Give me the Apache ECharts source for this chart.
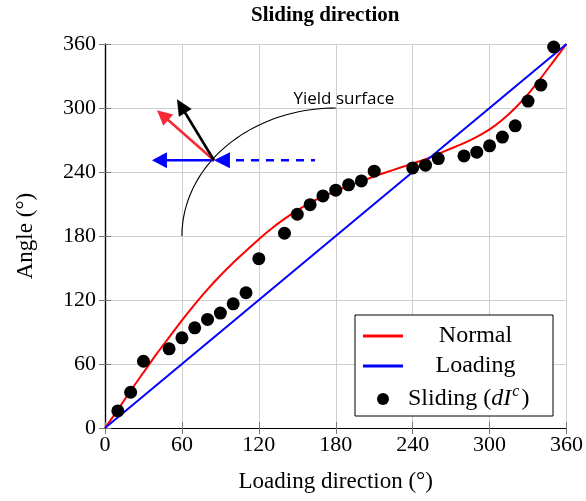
<!DOCTYPE html>
<html>
<head>
<meta charset="utf-8">
<script src="https://cdn.jsdelivr.net/npm/echarts@6/dist/echarts.min.js"></script>
<style>html,body{margin:0;padding:0;background:#fff}#main{width:586px;height:501px}</style>
</head>
<body>
<div id="main"></div>
<script>
// ---- data ----
const normalX = [0,10,20,30,40,50,60,70,80,90,100,110,120,130,140,150,160,170,180,190,200,210,220,230,240,250,260,270,280,290,300,310,320,330,340,350,360];
const normalY = [0,17,35,52,69,85,101,116,130,143,155,166,177,187,196,204,211,217,222,227,231,236,240,244,248,252,257,262,267,273,280,289,300,313,328,344,360];
const loadingX = [0,360];
const loadingY = [0,360];
const slidingX = [10,20,30,50,60,70,80,90,100,110,120,140,150,160,170,180,190,200,210,240,250,260,280,290,300,310,320,330,340,350];
const slidingY = [16,33.5,62.6,74.2,84.5,93.9,101.8,107.7,116.4,126.8,158.7,182.6,200.4,209.4,217.6,223,228,231.6,240.8,243.8,246.4,252.6,255.1,258.6,264.5,272.7,283.3,306.5,321.5,357.2];
const axisTicks = [0,60,120,180,240,300,360];
const titleText = 'Sliding direction';
const xName = 'Loading direction (°)';
const yName = 'Angle (°)';
const yieldLabel = 'Yield surface';
// yield surface: circle in data coords
const yieldCenter = [180,180];
const yieldRadius = 120;
const arrowOrigin = [85,251];

const serif = '"Liberation Serif", "Times New Roman", serif';
const zip = (xs, ys) => xs.map((x,i)=>[x, ys[i]]);

const chart = echarts.init(document.getElementById('main'), null, {renderer:'canvas'});

const axisCommon = {
  min: 0, max: 360, interval: 60,
  axisLine: {show:true, lineStyle:{color:'#000', width:1.2}},
  axisTick: {show:true, inside:true, length:6, lineStyle:{color:'#777'}},
  splitLine: {show:true, lineStyle:{color:'#cfcfcf', width:1}},
};
const lineIcon = 'path://M0,0 L40,0 L40,3 L0,3 Z';

chart.setOption({
  animation: false,
  backgroundColor: '#fff',
  title: {
    text: titleText, left: 246, top: 0,
    textStyle: {fontFamily: serif, fontWeight:'bold', fontSize: 21, color:'#000'}
  },
  grid: {left:105, right:19, top:44, bottom:73, containLabel:false},
  xAxis: [
    Object.assign({}, axisCommon, {
      type:'value', position:'bottom',
      name: xName, nameLocation:'middle', nameGap: 42,
      nameTextStyle:{fontFamily:serif, fontSize:23, color:'#000'},
      axisLabel:{fontFamily:serif, fontSize:22, color:'#000', margin:6,
        formatter: v => axisTicks.indexOf(v) >= 0 ? String(v) : ''}
    }),
    Object.assign({}, axisCommon, {
      type:'value', position:'top', axisLabel:{show:false}, splitLine:{show:false}
    })
  ],
  yAxis: [
    Object.assign({}, axisCommon, {
      type:'value', position:'left',
      name: yName, nameLocation:'middle', nameGap: 68,
      nameTextStyle:{fontFamily:serif, fontSize:23, color:'#000'},
      axisLabel:{fontFamily:serif, fontSize:22, color:'#000', margin:9,
        formatter: v => axisTicks.indexOf(v) >= 0 ? String(v) : ''}
    }),
    Object.assign({}, axisCommon, {
      type:'value', position:'right', axisLabel:{show:false}, splitLine:{show:false}
    })
  ],
  legend: {
    orient:'vertical', left:355, top:315,
    backgroundColor:'#fff', borderColor:'#000', borderWidth:1, borderRadius:0,
    padding:[9,10,2,8], itemGap:6, itemWidth:40, itemHeight:12,
    data:[
      {name:'Normal', icon:lineIcon, itemStyle:{color:'#ff0000'}},
      {name:'Loading', icon:lineIcon, itemStyle:{color:'#0000ff'}},
      {name:'Sliding', icon:'circle', itemStyle:{color:'#000', opacity:1}}
    ],
    formatter: function(name){
      if (name === 'Sliding') return '{a|Sliding (}{i|dI}{s|c}{a|)}';
      return '{t|' + name + '}';
    },
    textStyle:{
      fontFamily:serif, fontSize:24, color:'#000',
      rich:{
        t:{fontFamily:serif, fontSize:24, width:135, align:'center', lineHeight:26},
        a:{fontFamily:serif, fontSize:24, lineHeight:26, padding:[0,0,0,0]},
        i:{fontFamily:serif, fontSize:24, fontStyle:'italic', lineHeight:26},
        s:{fontFamily:serif, fontSize:16, fontStyle:'italic', lineHeight:26, padding:[0,2,14,1]}
      }
    }
  },
  series: [
    {name:'Normal', type:'line', data: zip(normalX, normalY), symbol:'none', smooth:0.2,
     lineStyle:{color:'#ff0000', width:2}, itemStyle:{color:'#ff0000'}, z:3},
    {name:'Loading', type:'line', data: zip(loadingX, loadingY), symbol:'none',
     lineStyle:{color:'#0000ff', width:2}, itemStyle:{color:'#0000ff'}, z:3},
    {name:'Sliding', type:'scatter', data: zip(slidingX, slidingY), symbol:'circle', symbolSize:13,
     itemStyle:{color:'#000', opacity:1}, z:5}
  ]
});

// ---- annotations (positioned from data coordinates) ----
const P = (pt) => chart.convertToPixel({gridIndex:0}, pt);
const arcPts = [];
for (let a = 90; a <= 180; a += 2) {
  const r = a*Math.PI/180;
  arcPts.push(P([yieldCenter[0] + yieldRadius*Math.cos(r), yieldCenter[1] + yieldRadius*Math.sin(r)]));
}
const o = P(arrowOrigin);
function arrow(dx, dy, color, headLen, headHalf) {
  const tip = [o[0]+dx, o[1]+dy];
  const L = Math.hypot(dx, dy);
  const ux = dx/L, uy = dy/L;
  const px = -uy, py = ux;
  const bx = tip[0]-ux*headLen, by = tip[1]-uy*headLen;
  return [
    {type:'line', shape:{x1:o[0], y1:o[1], x2:bx+ux*2, y2:by+uy*2}, style:{stroke:color, lineWidth:2.6}, z:20},
    {type:'polygon', shape:{points:[tip, [bx+px*headHalf, by+py*headHalf], [bx-px*headHalf, by-py*headHalf]]}, style:{fill:color}, z:21}
  ];
}
const lp = P([147, 308.6]);
const graphics = [
  {type:'polyline', shape:{points:arcPts}, style:{stroke:'#000', lineWidth:1.1, fill:null}, z:15},
  {type:'text', x:lp[0], y:lp[1], style:{text:yieldLabel, fontFamily:'"Open Sans", sans-serif', fontSize:17, fill:'#000', textVerticalAlign:'middle'}, z:20},
  ...arrow(-62, 0, '#0000ff', 15, 8),
  ...arrow(-57, -50, '#f52a36', 15, 7.5),
  ...arrow(-37, -61, '#000', 16, 7.5),
  {type:'polygon', shape:{points:[[o[0],o[1]],[o[0]+16,o[1]-8],[o[0]+16,o[1]+8]]}, style:{fill:'#0000ff'}, z:21},
  {type:'line', shape:{x1:o[0]+22, y1:o[1], x2:o[0]+101, y2:o[1]}, style:{stroke:'#0000ff', lineWidth:2.6, lineDash:[8,7]}, z:20}
];
chart.setOption({graphic: graphics});
</script>
</body>
</html>
